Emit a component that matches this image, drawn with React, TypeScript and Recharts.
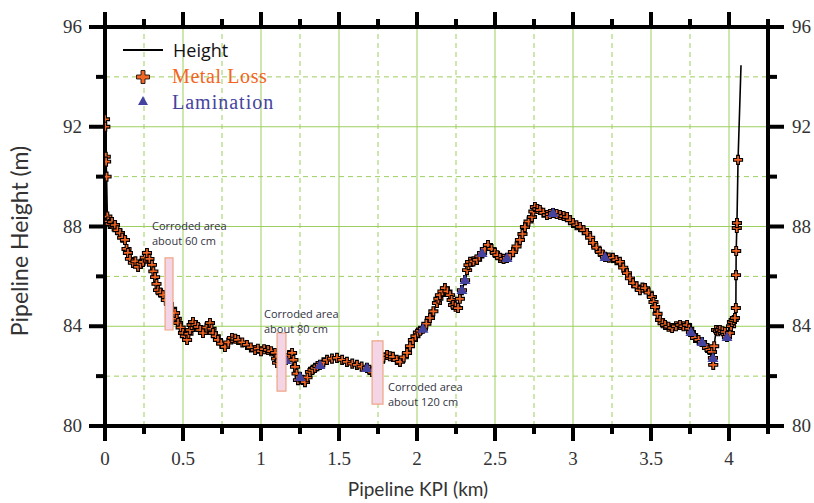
import { ComposedChart, Line, Scatter, XAxis, YAxis, ReferenceLine, ReferenceArea } from 'recharts';

// pipeline height profile, [KPI km, height m]
const heightProfile: [number, number][] = [
	[0.0, 92.3], [0.002, 92.0], [0.005, 90.8], [0.007, 90.6], [0.01, 90.0], [0.015, 88.4], [0.02, 88.2],
	[0.03, 88.1], [0.045, 88.18], [0.055, 88.0], [0.064, 88.06], [0.08, 87.85], [0.096, 87.74], [0.11, 87.55],
	[0.128, 87.46], [0.138, 87.1], [0.147, 86.94], [0.16, 86.7], [0.179, 86.54], [0.195, 86.6], [0.212, 86.38],
	[0.228, 86.5], [0.244, 86.58], [0.255, 86.75], [0.269, 86.94], [0.285, 86.7], [0.301, 86.46], [0.31, 86.2],
	[0.321, 85.97], [0.33, 85.7], [0.34, 85.45], [0.355, 85.35], [0.372, 85.25], [0.39, 85.05], [0.41, 84.89],
	[0.43, 84.7], [0.449, 84.53], [0.46, 84.3], [0.468, 84.13], [0.485, 83.95], [0.5, 83.73], [0.512, 83.6],
	[0.526, 83.45], [0.535, 83.7], [0.545, 83.85], [0.555, 84.05], [0.564, 84.17], [0.58, 84.05], [0.596, 83.97],
	[0.61, 83.85], [0.628, 83.73], [0.65, 83.95], [0.673, 84.13], [0.683, 83.9], [0.692, 83.73], [0.71, 83.6],
	[0.724, 83.45], [0.745, 83.3], [0.769, 83.17], [0.79, 83.35], [0.814, 83.53], [0.835, 83.5], [0.853, 83.45],
	[0.88, 83.35], [0.91, 83.25], [0.935, 83.15], [0.962, 83.05], [0.98, 83.1], [1.0, 83.0], [1.02, 83.08],
	[1.045, 83.05], [1.065, 83.0], [1.09, 82.93], [1.097, 82.7], [1.103, 82.53], [1.12, 82.6], [1.135, 82.77],
	[1.16, 82.65], [1.18, 82.85], [1.199, 82.93], [1.208, 82.65], [1.218, 82.37], [1.228, 82.1], [1.237, 81.84],
	[1.25, 81.96], [1.265, 81.85], [1.282, 81.76], [1.298, 81.95], [1.314, 82.17], [1.33, 82.25], [1.346, 82.33],
	[1.362, 82.4], [1.378, 82.45], [1.4, 82.55], [1.423, 82.65], [1.455, 82.7], [1.487, 82.73], [1.52, 82.65],
	[1.551, 82.57], [1.585, 82.5], [1.615, 82.45], [1.645, 82.38], [1.679, 82.33], [1.695, 82.25], [1.712, 82.17],
	[1.74, 82.35], [1.763, 82.57], [1.785, 82.75], [1.808, 82.85], [1.826, 82.8], [1.846, 82.77], [1.87, 82.65],
	[1.891, 82.57], [1.915, 82.75], [1.936, 82.93], [1.955, 83.2], [1.974, 83.45], [1.99, 83.6], [2.006, 83.75],
	[2.02, 83.82], [2.038, 83.9], [2.06, 84.1], [2.083, 84.33], [2.105, 84.6], [2.128, 84.93], [2.137, 85.1],
	[2.147, 85.25], [2.163, 85.4], [2.179, 85.53], [2.195, 85.4], [2.212, 85.25], [2.222, 85.05], [2.231, 84.85],
	[2.247, 84.78], [2.263, 84.73], [2.275, 85.1], [2.288, 85.45], [2.308, 85.85], [2.321, 86.25], [2.33, 86.45],
	[2.34, 86.58], [2.362, 86.6], [2.385, 86.66], [2.4, 86.8], [2.417, 86.94], [2.435, 87.1], [2.455, 87.26],
	[2.478, 87.1], [2.5, 86.94], [2.515, 86.85], [2.532, 86.74], [2.555, 86.7], [2.577, 86.74], [2.597, 86.85],
	[2.615, 86.98], [2.638, 87.2], [2.66, 87.46], [2.676, 87.7], [2.692, 87.98], [2.715, 88.2], [2.737, 88.38],
	[2.746, 88.6], [2.756, 88.78], [2.772, 88.7], [2.788, 88.66], [2.81, 88.55], [2.833, 88.46], [2.852, 88.5],
	[2.872, 88.54], [2.895, 88.5], [2.917, 88.46], [2.94, 88.42], [2.962, 88.38], [2.98, 88.25], [3.0, 88.14],
	[3.022, 88.05], [3.045, 87.98], [3.068, 87.85], [3.09, 87.74], [3.11, 87.55], [3.128, 87.34], [3.15, 87.15],
	[3.173, 86.98], [3.19, 86.88], [3.205, 86.78], [3.23, 86.75], [3.256, 86.74], [3.278, 86.65], [3.301, 86.58],
	[3.322, 86.35], [3.346, 86.13], [3.365, 85.92], [3.385, 85.73], [3.408, 85.6], [3.429, 85.45], [3.445, 85.55],
	[3.462, 85.53], [3.485, 85.35], [3.506, 85.17], [3.516, 84.97], [3.526, 84.77], [3.542, 84.5], [3.558, 84.25],
	[3.574, 84.12], [3.59, 84.05], [3.612, 83.98], [3.635, 83.93], [3.66, 84.0], [3.686, 84.05], [3.708, 84.0],
	[3.731, 84.05], [3.745, 83.9], [3.756, 83.77], [3.77, 83.65], [3.782, 83.53], [3.805, 83.45], [3.827, 83.37],
	[3.843, 83.25], [3.859, 83.13], [3.875, 83.05], [3.891, 82.97], [3.897, 82.73], [3.899, 82.45], [3.905, 83.2],
	[3.917, 83.85], [3.93, 83.8], [3.942, 83.85], [3.958, 83.8], [3.974, 83.77], [3.987, 83.57], [4.006, 83.73],
	[4.013, 84.0], [4.019, 84.17], [4.03, 84.25], [4.038, 84.33], [4.044, 84.73], [4.045, 86.05], [4.046, 87.02],
	[4.05, 87.94], [4.051, 88.14], [4.058, 90.67], [4.077, 94.47],
];

const laminations: [number, number][] = [
	[1.16, 82.65], [1.25, 81.96], [1.378, 82.45], [1.679, 82.33], [2.038, 83.9], [2.288, 85.45],
	[2.308, 85.85], [2.417, 86.94], [2.577, 86.74], [2.872, 88.54], [3.205, 86.78], [3.756, 83.77],
	[3.827, 83.37], [3.897, 82.73], [3.987, 83.57],
];

const corrodedAreas = [
	{ km1: 0.385, km2: 0.436, h1: 83.85, h2: 86.74, lines: ['Corroded area', 'about 60 cm'], left: 152, top: 218 },
	{ km1: 1.103, km2: 1.16, h1: 81.4, h2: 83.73, lines: ['Corroded area', 'about 80 cm'], left: 264, top: 306 },
	{ km1: 1.712, km2: 1.782, h1: 80.88, h2: 83.41, lines: ['Corroded area', 'about 120 cm'], left: 388, top: 379 },
];

const xMajor = [0, 0.5, 1, 1.5, 2, 2.5, 3, 3.5, 4];
const xMinor = [0.25, 0.75, 1.25, 1.75, 2.25, 2.75, 3.25, 3.75];
const yMajor = [80, 84, 88, 92, 96];
const yMinor = [82, 86, 90, 94];

const profileData = heightProfile.map(([km, h]) => ({ km, h }));
const metalLossData = heightProfile.slice(0, -1).map(([km, h]) => ({ km, h }));
const laminationData = laminations.map(([km, h]) => ({ km, h }));

const xTicks = [...xMajor, ...xMinor, 4.25].sort((a, b) => a - b);
const yTicks = [...yMajor, ...yMinor].sort((a, b) => a - b);

const ORANGE = '#f26522';
const BLUE = '#4444a0';
const GRID = '#9ccf5f';
const X_DOMAIN: [number, number] = [0, 4.25];
const Y_DOMAIN: [number, number] = [80, 96];
const tickFont = { fontFamily: '"Liberation Serif", serif', fontSize: 19, fill: '#333' };

const plusPath = (cx: number, cy: number, r: number, t: number) =>
	`M${cx - t},${cy - r}H${cx + t}V${cy - t}H${cx + r}V${cy + t}H${cx + t}V${cy + r}H${cx - t}V${cy + t}H${cx - r}V${cy - t}H${cx - t}Z`;

const PlusShape = (props: any) => {
	const { cx, cy } = props;
	if (cx == null || cy == null) return null;
	return <path d={plusPath(cx, cy, 4.5, 1.4)} fill={ORANGE} stroke='#000' strokeWidth={1.1} />;
};

const TriangleShape = (props: any) => {
	const { cx, cy } = props;
	if (cx == null || cy == null) return null;
	return <path d={`M${cx},${cy - 5.5}L${cx + 5.5},${cy + 4}L${cx - 5.5},${cy + 4}Z`} fill={BLUE} />;
};

const BottomTick = ({ x, y, payload }: any) => {
	const major = xMajor.includes(payload.value);
	return (
		<g>
			<line x1={x} x2={x} y1={y} y2={y + (major ? 15 : 8)} stroke='#000' strokeWidth={4} />
			{major && (
				<text x={x} y={y + 39} textAnchor='middle' {...tickFont}>
					{payload.value}
				</text>
			)}
		</g>
	);
};

const TopTick = ({ x, y, payload }: any) => {
	const major = xMajor.includes(payload.value);
	return <line x1={x} x2={x} y1={y} y2={y - (major ? 15 : 8)} stroke='#000' strokeWidth={4} />;
};

const LeftTick = ({ x, y, payload }: any) => {
	const major = yMajor.includes(payload.value);
	return (
		<g>
			<line x1={x} x2={x - (major ? 16 : 9)} y1={y} y2={y} stroke='#000' strokeWidth={4} />
			{major && (
				<text x={x - 23} y={y + 6} textAnchor='end' {...tickFont}>
					{payload.value}
				</text>
			)}
		</g>
	);
};

const RightTick = ({ x, y, payload }: any) => {
	const major = yMajor.includes(payload.value);
	return (
		<g>
			<line x1={x} x2={x + (major ? 16 : 9)} y1={y} y2={y} stroke='#000' strokeWidth={4} />
			{major && (
				<text x={x + 24} y={y + 6} textAnchor='start' {...tickFont}>
					{payload.value}
				</text>
			)}
		</g>
	);
};

const annoStyle: React.CSSProperties = {
	position: 'absolute',
	fontFamily: '"Open Sans", sans-serif',
	fontSize: 11,
	lineHeight: '15px',
	color: '#33333f',
	whiteSpace: 'nowrap',
};

export default function App() {
	return (
		<div style={{ position: 'absolute', left: 0, top: 0, width: 814, height: 503, background: '#fff' }}>
			<ComposedChart width={814} height={503} margin={{ top: 13, right: 6, bottom: 32, left: 30 }}>
				{xMinor.map((v) => (
					<ReferenceLine key={'xm' + v} x={v} stroke={GRID} strokeDasharray='5 4' />
				))}
				{xMajor.slice(1).map((v) => (
					<ReferenceLine key={'xM' + v} x={v} stroke={GRID} />
				))}
				{yMinor.map((v) => (
					<ReferenceLine key={'ym' + v} y={v} stroke={GRID} strokeDasharray='5 4' />
				))}
				{yMajor.slice(1, -1).map((v) => (
					<ReferenceLine key={'yM' + v} y={v} stroke={GRID} />
				))}
				<XAxis
					dataKey='km'
					type='number'
					domain={X_DOMAIN}
					allowDataOverflow
					ticks={xTicks}
					interval={0}
					tickSize={0}
					tickMargin={0}
					tickLine={false}
					height={45}
					axisLine={{ stroke: '#000', strokeWidth: 4 }}
					tick={<BottomTick />}
				/>
				<XAxis
					xAxisId='top'
					orientation='top'
					dataKey='km'
					type='number'
					domain={X_DOMAIN}
					allowDataOverflow
					ticks={xTicks}
					interval={0}
					tickSize={0}
					tickMargin={0}
					tickLine={false}
					height={14}
					axisLine={{ stroke: '#000', strokeWidth: 4 }}
					tick={<TopTick />}
				/>
				<YAxis
					dataKey='h'
					type='number'
					domain={Y_DOMAIN}
					allowDataOverflow
					ticks={yTicks}
					interval={0}
					tickSize={0}
					tickMargin={0}
					tickLine={false}
					width={75}
					axisLine={{ stroke: '#000', strokeWidth: 4 }}
					tick={<LeftTick />}
				/>
				<YAxis
					yAxisId='right'
					orientation='right'
					dataKey='h'
					type='number'
					domain={Y_DOMAIN}
					allowDataOverflow
					ticks={yTicks}
					interval={0}
					tickSize={0}
					tickMargin={0}
					tickLine={false}
					width={40}
					axisLine={{ stroke: '#000', strokeWidth: 4 }}
					tick={<RightTick />}
				/>
				<Line data={profileData} dataKey='h' type='linear' stroke='#000' strokeWidth={1.6} dot={false} isAnimationActive={false} />
				<Scatter data={metalLossData} dataKey='h' shape={<PlusShape />} isAnimationActive={false} />
				<Scatter data={laminationData} dataKey='h' shape={<TriangleShape />} isAnimationActive={false} />
			</ComposedChart>

			{/* same plot box, drawn on top so the corroded-area boxes cover the profile */}
			<div style={{ position: 'absolute', left: 0, top: 0 }}>
				<ComposedChart width={814} height={503} margin={{ top: 27, right: 46, bottom: 77, left: 105 }}>
					<XAxis dataKey='km' type='number' domain={X_DOMAIN} allowDataOverflow hide />
					<YAxis dataKey='h' type='number' domain={Y_DOMAIN} allowDataOverflow hide />
					{corrodedAreas.map((a) => (
						<ReferenceArea
							key={a.lines[1]}
							x1={a.km1}
							x2={a.km2}
							y1={a.h1}
							y2={a.h2}
							fill='#f3d5e6'
							fillOpacity={1}
							stroke='#f0a585'
							strokeWidth={1.2}
						/>
					))}
				</ComposedChart>
			</div>

			{corrodedAreas.map((a) => (
				<div key={'t' + a.lines[1]} style={{ ...annoStyle, left: a.left, top: a.top }}>
					{a.lines[0]}
					<br />
					{a.lines[1]}
				</div>
			))}

			<div
				style={{
					position: 'absolute',
					left: 0,
					top: 241,
					width: 38,
					height: 0,
					display: 'flex',
					justifyContent: 'center',
					alignItems: 'center',
				}}
			>
				<div
					style={{
						transform: 'rotate(-90deg)',
						whiteSpace: 'nowrap',
						fontFamily: 'Lato, sans-serif',
						fontSize: 23,
						color: '#333',
					}}
				>
					Pipeline Height (m)
				</div>
			</div>
			<div
				style={{
					position: 'absolute',
					left: 318,
					width: 200,
					top: 478,
					textAlign: 'center',
					fontFamily: 'Lato, sans-serif',
					fontSize: 19,
					lineHeight: '22px',
					color: '#333',
					whiteSpace: 'nowrap',
				}}
			>
				Pipeline KPI (km)
			</div>

			<svg style={{ position: 'absolute', left: 0, top: 0 }} width={180} height={115}>
				<line x1={123} x2={163} y1={50} y2={50} stroke='#000' strokeWidth={2} />
				<path d={plusPath(143, 77, 6.5, 2)} fill={ORANGE} stroke='#000' strokeWidth={0.8} />
				<path d='M143,96L148,105L138,105Z' fill={BLUE} />
			</svg>
			<div style={{ position: 'absolute', left: 173, top: 38, fontFamily: '"Open Sans", sans-serif', fontSize: 18, color: '#111', lineHeight: '24px' }}>
				Height
			</div>
			<div style={{ position: 'absolute', left: 172, top: 63, fontFamily: '"Liberation Serif", serif', fontSize: 20, color: ORANGE, lineHeight: '26px', letterSpacing: 0.6 }}>
				Metal Loss
			</div>
			<div style={{ position: 'absolute', left: 172, top: 89, fontFamily: '"Liberation Serif", serif', fontSize: 20, color: BLUE, lineHeight: '26px', letterSpacing: 1 }}>
				Lamination
			</div>
		</div>
	);
}
